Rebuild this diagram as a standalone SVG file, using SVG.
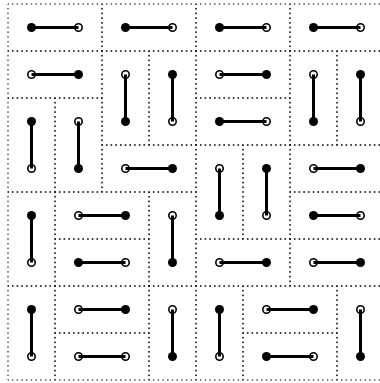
<svg xmlns="http://www.w3.org/2000/svg" width="380" height="383" viewBox="0 0 380 383">
<style>
.b{fill:none;stroke:#000;stroke-width:1;stroke-dasharray:1.5 3.2;stroke-dashoffset:0.75}
.f{fill:#000}
.o{fill:#fff;stroke:#000;stroke-width:1.6}
.c line{stroke:#000;stroke-width:3}
</style>
<rect width="380" height="383" fill="#fff"/>
<g id="tiles">
<rect id="t1" class="b" x="8" y="4" width="94" height="47"/>
<rect id="t2" class="b" x="102" y="4" width="94" height="47"/>
<rect id="t3" class="b" x="196" y="4" width="94" height="47"/>
<rect id="t4" class="b" x="290" y="4" width="94" height="47"/>
<rect id="t5" class="b" x="8" y="51" width="94" height="47"/>
<rect id="t6" class="b" x="102" y="51" width="47" height="94"/>
<rect id="t7" class="b" x="149" y="51" width="47" height="94"/>
<rect id="t8" class="b" x="196" y="51" width="94" height="47"/>
<rect id="t9" class="b" x="290" y="51" width="47" height="94"/>
<rect id="t10" class="b" x="337" y="51" width="47" height="94"/>
<rect id="t11" class="b" x="8" y="98" width="47" height="94"/>
<rect id="t12" class="b" x="55" y="98" width="47" height="94"/>
<rect id="t13" class="b" x="196" y="98" width="94" height="47"/>
<rect id="t14" class="b" x="102" y="145" width="94" height="47"/>
<rect id="t15" class="b" x="196" y="145" width="47" height="94"/>
<rect id="t16" class="b" x="243" y="145" width="47" height="94"/>
<rect id="t17" class="b" x="290" y="145" width="94" height="47"/>
<rect id="t18" class="b" x="8" y="192" width="47" height="94"/>
<rect id="t19" class="b" x="55" y="192" width="94" height="47"/>
<rect id="t20" class="b" x="149" y="192" width="47" height="94"/>
<rect id="t21" class="b" x="290" y="192" width="94" height="47"/>
<rect id="t22" class="b" x="55" y="239" width="94" height="47"/>
<rect id="t23" class="b" x="196" y="239" width="94" height="47"/>
<rect id="t24" class="b" x="290" y="239" width="94" height="47"/>
<rect id="t25" class="b" x="8" y="286" width="47" height="94"/>
<rect id="t26" class="b" x="55" y="286" width="94" height="47"/>
<rect id="t27" class="b" x="149" y="286" width="47" height="94"/>
<rect id="t28" class="b" x="196" y="286" width="47" height="94"/>
<rect id="t29" class="b" x="243" y="286" width="94" height="47"/>
<rect id="t30" class="b" x="337" y="286" width="47" height="94"/>
<rect id="t31" class="b" x="55" y="333" width="94" height="47"/>
<rect id="t32" class="b" x="243" y="333" width="94" height="47"/>
</g>
<g id="dots">
<g id="d1"><circle class="f" cx="31.5" cy="27.5" r="4.5"/><circle class="o" cx="78.5" cy="27.5" r="3.7"/></g>
<g id="d2"><circle class="f" cx="125.5" cy="27.5" r="4.5"/><circle class="o" cx="172.5" cy="27.5" r="3.7"/></g>
<g id="d3"><circle class="f" cx="219.5" cy="27.5" r="4.5"/><circle class="o" cx="266.5" cy="27.5" r="3.7"/></g>
<g id="d4"><circle class="f" cx="313.5" cy="27.5" r="4.5"/><circle class="o" cx="360.5" cy="27.5" r="3.7"/></g>
<g id="d5"><circle class="o" cx="31.5" cy="74.5" r="3.7"/><circle class="f" cx="78.5" cy="74.5" r="4.5"/></g>
<g id="d6"><circle class="o" cx="125.5" cy="74.5" r="3.7"/><circle class="f" cx="125.5" cy="121.5" r="4.5"/></g>
<g id="d7"><circle class="f" cx="172.5" cy="74.5" r="4.5"/><circle class="o" cx="172.5" cy="121.5" r="3.7"/></g>
<g id="d8"><circle class="o" cx="219.5" cy="74.5" r="3.7"/><circle class="f" cx="266.5" cy="74.5" r="4.5"/></g>
<g id="d9"><circle class="o" cx="313.5" cy="74.5" r="3.7"/><circle class="f" cx="313.5" cy="121.5" r="4.5"/></g>
<g id="d10"><circle class="f" cx="360.5" cy="74.5" r="4.5"/><circle class="o" cx="360.5" cy="121.5" r="3.7"/></g>
<g id="d11"><circle class="f" cx="31.5" cy="121.5" r="4.5"/><circle class="o" cx="31.5" cy="168.5" r="3.7"/></g>
<g id="d12"><circle class="o" cx="78.5" cy="121.5" r="3.7"/><circle class="f" cx="78.5" cy="168.5" r="4.5"/></g>
<g id="d13"><circle class="f" cx="219.5" cy="121.5" r="4.5"/><circle class="o" cx="266.5" cy="121.5" r="3.7"/></g>
<g id="d14"><circle class="o" cx="125.5" cy="168.5" r="3.7"/><circle class="f" cx="172.5" cy="168.5" r="4.5"/></g>
<g id="d15"><circle class="o" cx="219.5" cy="168.5" r="3.7"/><circle class="f" cx="219.5" cy="215.5" r="4.5"/></g>
<g id="d16"><circle class="f" cx="266.5" cy="168.5" r="4.5"/><circle class="o" cx="266.5" cy="215.5" r="3.7"/></g>
<g id="d17"><circle class="o" cx="313.5" cy="168.5" r="3.7"/><circle class="f" cx="360.5" cy="168.5" r="4.5"/></g>
<g id="d18"><circle class="f" cx="31.5" cy="215.5" r="4.5"/><circle class="o" cx="31.5" cy="262.5" r="3.7"/></g>
<g id="d19"><circle class="o" cx="78.5" cy="215.5" r="3.7"/><circle class="f" cx="125.5" cy="215.5" r="4.5"/></g>
<g id="d20"><circle class="o" cx="172.5" cy="215.5" r="3.7"/><circle class="f" cx="172.5" cy="262.5" r="4.5"/></g>
<g id="d21"><circle class="f" cx="313.5" cy="215.5" r="4.5"/><circle class="o" cx="360.5" cy="215.5" r="3.7"/></g>
<g id="d22"><circle class="f" cx="78.5" cy="262.5" r="4.5"/><circle class="o" cx="125.5" cy="262.5" r="3.7"/></g>
<g id="d23"><circle class="o" cx="219.5" cy="262.5" r="3.7"/><circle class="f" cx="266.5" cy="262.5" r="4.5"/></g>
<g id="d24"><circle class="o" cx="313.5" cy="262.5" r="3.7"/><circle class="f" cx="360.5" cy="262.5" r="4.5"/></g>
<g id="d25"><circle class="f" cx="31.5" cy="309.5" r="4.5"/><circle class="o" cx="31.5" cy="356.5" r="3.7"/></g>
<g id="d26"><circle class="o" cx="78.5" cy="309.5" r="3.7"/><circle class="f" cx="125.5" cy="309.5" r="4.5"/></g>
<g id="d27"><circle class="o" cx="172.5" cy="309.5" r="3.7"/><circle class="f" cx="172.5" cy="356.5" r="4.5"/></g>
<g id="d28"><circle class="f" cx="219.5" cy="309.5" r="4.5"/><circle class="o" cx="219.5" cy="356.5" r="3.7"/></g>
<g id="d29"><circle class="o" cx="266.5" cy="309.5" r="3.7"/><circle class="f" cx="313.5" cy="309.5" r="4.5"/></g>
<g id="d30"><circle class="o" cx="360.5" cy="309.5" r="3.7"/><circle class="f" cx="360.5" cy="356.5" r="4.5"/></g>
<g id="d31"><circle class="o" cx="78.5" cy="356.5" r="3.7"/><circle class="o" cx="125.5" cy="356.5" r="3.7"/></g>
<g id="d32"><circle class="f" cx="266.5" cy="356.5" r="4.5"/><circle class="o" cx="313.5" cy="356.5" r="3.7"/></g>
</g>
<g id="connectors" class="c">
<line x1="31.5" y1="27.5" x2="78.5" y2="27.5"/>
<line x1="125.5" y1="27.5" x2="172.5" y2="27.5"/>
<line x1="219.5" y1="27.5" x2="266.5" y2="27.5"/>
<line x1="313.5" y1="27.5" x2="360.5" y2="27.5"/>
<line x1="31.5" y1="74.5" x2="78.5" y2="74.5"/>
<line x1="125.5" y1="74.5" x2="125.5" y2="121.5"/>
<line x1="172.5" y1="74.5" x2="172.5" y2="121.5"/>
<line x1="219.5" y1="74.5" x2="266.5" y2="74.5"/>
<line x1="313.5" y1="74.5" x2="313.5" y2="121.5"/>
<line x1="360.5" y1="74.5" x2="360.5" y2="121.5"/>
<line x1="31.5" y1="121.5" x2="31.5" y2="168.5"/>
<line x1="78.5" y1="121.5" x2="78.5" y2="168.5"/>
<line x1="219.5" y1="121.5" x2="266.5" y2="121.5"/>
<line x1="125.5" y1="168.5" x2="172.5" y2="168.5"/>
<line x1="219.5" y1="168.5" x2="219.5" y2="215.5"/>
<line x1="266.5" y1="168.5" x2="266.5" y2="215.5"/>
<line x1="313.5" y1="168.5" x2="360.5" y2="168.5"/>
<line x1="31.5" y1="215.5" x2="31.5" y2="262.5"/>
<line x1="78.5" y1="215.5" x2="125.5" y2="215.5"/>
<line x1="172.5" y1="215.5" x2="172.5" y2="262.5"/>
<line x1="313.5" y1="215.5" x2="360.5" y2="215.5"/>
<line x1="78.5" y1="262.5" x2="125.5" y2="262.5"/>
<line x1="219.5" y1="262.5" x2="266.5" y2="262.5"/>
<line x1="313.5" y1="262.5" x2="360.5" y2="262.5"/>
<line x1="31.5" y1="309.5" x2="31.5" y2="356.5"/>
<line x1="78.5" y1="309.5" x2="125.5" y2="309.5"/>
<line x1="172.5" y1="309.5" x2="172.5" y2="356.5"/>
<line x1="219.5" y1="309.5" x2="219.5" y2="356.5"/>
<line x1="266.5" y1="309.5" x2="313.5" y2="309.5"/>
<line x1="360.5" y1="309.5" x2="360.5" y2="356.5"/>
<line x1="78.5" y1="356.5" x2="125.5" y2="356.5"/>
<line x1="266.5" y1="356.5" x2="313.5" y2="356.5"/>
</g>
</svg>
